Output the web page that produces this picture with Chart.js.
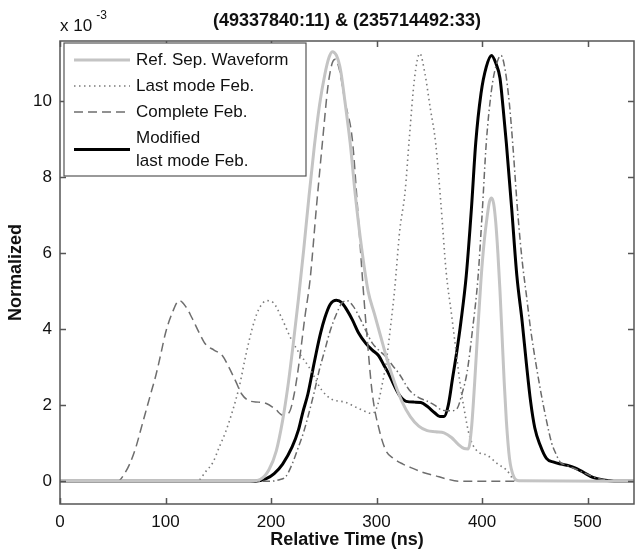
<!DOCTYPE html>
<html>
<head>
<meta charset="utf-8">
<script src="https://cdn.jsdelivr.net/npm/chart.js@4"></script>
<style>
  body { margin: 0; background: #fff; }
</style>
</head>
<body>
<canvas id="waveChart" width="635" height="552"></canvas>
<script>
const chartTitle = "(49337840:11) & (235714492:33)";
const xTicks = [0, 100, 200, 300, 400, 500];
const yTicks = [0, 2, 4, 6, 8, 10];

// values are in units of 1e-3

// Ref. Sep. Waveform
const refTime  = [0, 180, 190, 198, 205, 211, 216, 221, 226, 231, 236, 241, 246, 251, 255, 258, 262, 266, 270, 275, 280, 286, 292, 298, 304, 310, 317, 324, 332, 340, 348, 356, 364, 371, 377, 383, 387, 390, 393, 396, 399, 402, 405, 407, 409, 411, 413, 415, 417, 419, 421, 423, 426, 430, 435, 544];
const refValue = [0, 0, 0.05, 0.3, 0.8, 1.6, 2.5, 3.6, 4.8, 6.1, 7.5, 8.8, 9.9, 10.7, 11.15, 11.3, 11.2, 10.8, 10.0, 8.9, 7.5, 6.1, 5.0, 4.4, 3.8, 3.2, 2.6, 2.1, 1.7, 1.45, 1.33, 1.3, 1.27, 1.15, 0.98, 0.86, 0.85, 1.4, 2.6, 4.0, 5.3, 6.3, 7.0, 7.35, 7.45, 7.3, 6.8, 6.0, 5.0, 3.8, 2.6, 1.6, 0.6, 0.12, 0.01, 0];

// Last mode Feb.
const lastTime  = [0, 130, 138, 145, 151, 157, 163, 170, 176, 182, 188, 196, 202, 210, 218, 226, 236, 248, 258, 270, 284, 296, 301, 305, 309, 313, 317, 322, 327, 331, 336, 341, 346, 351, 356, 361, 366, 371, 375, 379, 383, 388, 395, 405, 415, 423, 430, 438, 544];
const lastValue = [0, 0, 0.25, 0.5, 0.9, 1.3, 1.8, 2.5, 3.3, 4.0, 4.5, 4.75, 4.7, 4.3, 3.8, 3.4, 3.0, 2.4, 2.15, 2.08, 1.9, 1.78, 2.0, 2.5, 3.1, 4.0, 5.0, 6.6, 7.6, 9.0, 10.6, 11.25, 10.7, 9.8, 8.9, 7.3, 5.5, 4.4, 3.5, 2.6, 1.9, 1.2, 0.8, 0.68, 0.45, 0.3, 0.05, 0, 0];

// Complete Feb.
const compTime  = [0, 55, 60, 66, 72, 77, 81, 86, 91, 96, 100, 106, 113, 119, 125, 132, 138, 146, 154, 160, 167, 172, 179, 188, 195, 204, 211, 217, 222, 227, 232, 237, 243, 249, 254, 258, 261, 265, 270, 277, 282, 287, 291, 296, 303, 309, 316, 325, 335, 345, 355, 365, 378, 544];
const compValue = [0, 0, 0.15, 0.45, 0.9, 1.4, 1.8, 2.3, 2.8, 3.4, 3.9, 4.4, 4.75, 4.6, 4.3, 3.9, 3.6, 3.45, 3.3, 3.0, 2.6, 2.3, 2.12, 2.08, 2.05, 1.9, 1.74, 1.8, 2.3, 3.2, 4.3, 5.3, 7.2, 9.0, 10.4, 11.0, 11.1, 10.8, 10.0, 9.0, 7.2, 5.2, 3.8, 2.3, 1.3, 0.8, 0.6, 0.45, 0.33, 0.22, 0.15, 0.07, 0, 0];

// Modified last mode Feb.
const modTime  = [0, 185, 195, 203, 211, 220, 226, 230, 235, 239, 243, 247, 251, 256, 262, 267, 272, 277, 283, 290, 296, 302, 307, 312, 317, 322, 328, 336, 342, 348, 355, 360, 364, 368, 372, 376, 380, 385, 390, 394, 399, 404, 409, 413, 417, 420, 423, 428, 433, 438, 442, 446, 450, 455, 461, 468, 475, 482, 488, 495, 505, 515, 525, 544];
const modValue = [0, 0, 0.06, 0.2, 0.45, 0.9, 1.35, 1.8, 2.3, 2.85, 3.4, 3.9, 4.3, 4.65, 4.76, 4.7, 4.5, 4.25, 3.9, 3.62, 3.45, 3.3, 3.05, 2.8, 2.5, 2.25, 2.1, 2.08, 2.07, 1.97, 1.8, 1.7, 1.7, 2.0, 2.7, 3.4, 4.2, 5.4, 7.2, 8.9, 10.2, 10.9, 11.2, 11.0, 10.6, 9.8, 8.9, 7.2, 5.4, 4.2, 3.1, 2.1, 1.4, 0.95, 0.6, 0.5, 0.45, 0.41, 0.35, 0.25, 0.1, 0.03, 0, 0];

// unlabelled dash-dot curve
const ddTime  = [0, 200, 208, 214, 220, 226, 231, 236, 241, 246, 251, 256, 262, 267, 272, 278, 284, 290, 296, 302, 309, 315, 322, 331, 340, 347, 355, 362, 370, 376, 381, 386, 391, 396, 400, 404, 409, 413, 418, 422, 426, 429, 434, 438, 442, 446, 451, 456, 461, 466, 470, 474, 480, 490, 500, 510, 520, 530, 544];
const ddValue = [0, 0, 0.04, 0.12, 0.45, 0.9, 1.3, 1.8, 2.35, 2.95, 3.45, 3.95, 4.4, 4.68, 4.75, 4.6, 4.3, 3.95, 3.63, 3.45, 3.27, 3.05, 2.8, 2.4, 2.2, 2.12, 2.0, 1.87, 1.85, 1.9, 2.3, 2.9, 4.0, 5.3, 7.0, 8.9, 10.3, 10.9, 11.2, 10.8, 9.9, 8.9, 7.0, 5.8, 4.9, 4.0, 3.1, 2.3, 1.6, 1.0, 0.72, 0.5, 0.42, 0.3, 0.18, 0.07, 0.02, 0, 0];

const font = "'Liberation Sans', Arial, Helvetica, sans-serif";

function toPoints(xs, ys) {
    return xs.map((t, i) => ({ x: t, y: ys[i] }));
}

function series(label, xs, ys, color, width, dash) {
    return {
        label: label,
        data: toPoints(xs, ys),
        borderColor: color,
        borderWidth: width,
        borderDash: dash,
        pointRadius: 0,
        fill: false,
        cubicInterpolationMode: "monotone"
    };
}

// box with inward ticks, like the original figure
const boxPlugin = {
    id: "boxPlugin",
    afterDatasetsDraw(chart) {
        const { ctx, chartArea: a, scales } = chart;
        ctx.save();
        ctx.strokeStyle = "#555";
        ctx.lineWidth = 1.5;
        ctx.strokeRect(a.left, a.top, a.right - a.left, a.bottom - a.top);
        ctx.beginPath();
        xTicks.forEach(v => {
            const px = Math.round(scales.x.getPixelForValue(v)) + 0.5;
            ctx.moveTo(px, a.bottom); ctx.lineTo(px, a.bottom - 6);
            ctx.moveTo(px, a.top); ctx.lineTo(px, a.top + 6);
        });
        yTicks.forEach(v => {
            const py = Math.round(scales.y.getPixelForValue(v)) + 0.5;
            ctx.moveTo(a.left, py); ctx.lineTo(a.left + 6, py);
            ctx.moveTo(a.right, py); ctx.lineTo(a.right - 6, py);
        });
        ctx.stroke();
        ctx.restore();
    },
    afterDraw(chart) {
        const { ctx, chartArea: a } = chart;
        ctx.save();
        ctx.fillStyle = "#111";

        // title
        ctx.font = "bold 18px " + font;
        ctx.textAlign = "center";
        ctx.textBaseline = "middle";
        ctx.fillText(chartTitle, (a.left + a.right) / 2, 21);

        // exponent label
        ctx.textAlign = "left";
        ctx.font = "17px " + font;
        ctx.fillText("x 10", a.left, 26);
        const w = ctx.measureText("x 10").width;
        ctx.font = "12px " + font;
        ctx.fillText("-3", a.left + w + 4, 16);

        // legend
        const lx = a.left + 4, ly = a.top + 2, lw = 242, lh = 133;
        ctx.fillStyle = "#fff";
        ctx.fillRect(lx, ly, lw, lh);
        ctx.strokeStyle = "#555";
        ctx.lineWidth = 1.2;
        ctx.strokeRect(lx, ly, lw, lh);
        ctx.font = "17px " + font;
        ctx.textBaseline = "middle";
        let y = ly + 17;
        chart.data.datasets.forEach(ds => {
            if (!ds.label) return;
            const lines = ds.label.split("\n");
            const midY = y + (lines.length - 1) * 11.5;
            ctx.save();
            ctx.strokeStyle = ds.borderColor;
            ctx.lineWidth = ds.borderWidth;
            ctx.setLineDash(ds.borderDash || []);
            ctx.beginPath();
            ctx.moveTo(lx + 10, midY);
            ctx.lineTo(lx + 66, midY);
            ctx.stroke();
            ctx.restore();
            ctx.fillStyle = "#111";
            lines.forEach((ln, i) => ctx.fillText(ln, lx + 72, y + i * 23));
            y += 26 + (lines.length - 1) * 23;
        });
        ctx.restore();
    }
};

new Chart(document.getElementById("waveChart").getContext("2d"), {
    type: "line",
    data: {
        datasets: [
            series("Ref. Sep. Waveform", refTime, refValue, "#c4c4c4", 3, []),
            series("Last mode Feb.", lastTime, lastValue, "#7a7a7a", 1.6, [1.5, 3.5]),
            series("Complete Feb.", compTime, compValue, "#6e6e6e", 1.5, [9, 5]),
            series("", ddTime, ddValue, "#6a6a6a", 1.5, [7, 3, 1.5, 3]),
            series("Modified\nlast mode Feb.", modTime, modValue, "#000", 3, [])
        ]
    },
    options: {
        responsive: false,
        animation: false,
        layout: { padding: { top: 41, right: 1, left: 0, bottom: 0 } },
        plugins: {
            legend: { display: false },
            title: { display: false },
            tooltip: { enabled: false }
        },
        scales: {
            x: {
                type: "linear",
                min: 0,
                max: 544,
                afterBuildTicks: s => { s.ticks = xTicks.map(v => ({ value: v })); },
                afterFit: s => { s.height = 48; },
                grid: { display: false, drawTicks: false },
                border: { display: false },
                ticks: { padding: 8, color: "#111", font: { family: font, size: 17 } },
                title: {
                    display: true,
                    text: "Relative Time (ns)",
                    color: "#111",
                    padding: { top: 0, bottom: 1 },
                    font: { family: font, size: 18, weight: "bold" }
                }
            },
            y: {
                type: "linear",
                min: -0.6,
                max: 11.58,
                afterBuildTicks: s => { s.ticks = yTicks.map(v => ({ value: v })); },
                afterFit: s => { s.width = 60; },
                grid: { display: false, drawTicks: false },
                border: { display: false },
                ticks: { padding: 8, color: "#111", font: { family: font, size: 17 } },
                title: {
                    display: true,
                    text: "Normalized",
                    color: "#111",
                    padding: { top: 5, bottom: 0 },
                    font: { family: font, size: 18, weight: "bold" }
                }
            }
        }
    },
    plugins: [boxPlugin]
});
</script>
</body>
</html>
